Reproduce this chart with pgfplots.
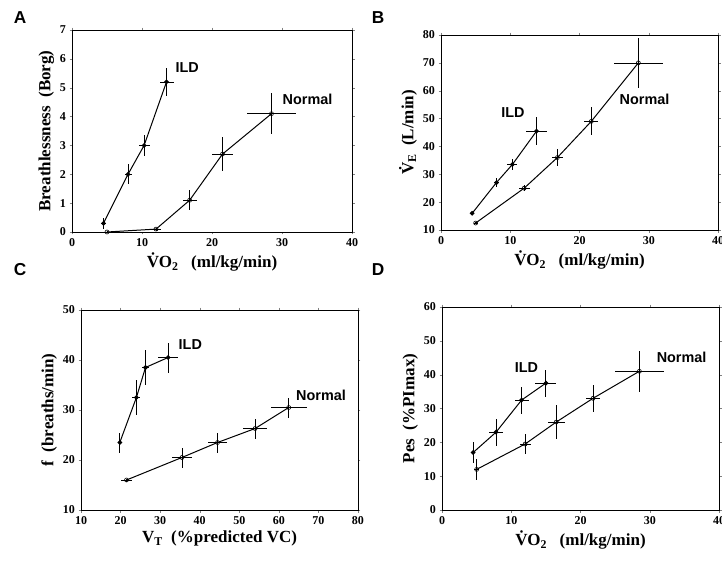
\documentclass[border=0pt]{standalone}
\usepackage{fontspec}
\setmainfont{Liberation Serif}
\newfontfamily\panelfont{Liberation Sans}
\usepackage{pgfplots}
\pgfplotsset{compat=1.18}

\pgfplotsset{
  panel/.style={
    scale only axis, anchor=south west,
    axis line style={line width=0.6pt},
    tick align=outside, major tick length=2.5pt,
    ticklabel style={font=\bfseries\large},
    /pgf/number format/assume math mode=true,
    label style={font=\bfseries\fontsize{17}{20}\selectfont},
    xlabel style={yshift=0pt},
    ylabel style={yshift=-1pt},
    clip=false,
  },
  ild/.style={black, line width=1pt, mark=*, mark size=1.8pt,
    error bars/.cd, x dir=both, y dir=both, x explicit, y explicit,
    error mark=none, error bar style={line width=0.8pt}},
  nrm/.style={black, line width=1pt, mark=o, mark size=2pt,
    mark options={fill=white, line width=0.6pt},
    error bars/.cd, x dir=both, y dir=both, x explicit, y explicit,
    error mark=none, error bar style={line width=0.7pt}},
}
\tikzset{grp/.style={font=\panelfont\bfseries\Large, anchor=west}}
\newcommand{\vo}{\.{V}O\textsubscript{2}}

\begin{document}
\begin{tikzpicture}
\path[use as bounding box] (0pt,0pt) rectangle (722pt,563pt);

\node[font=\panelfont\bfseries\LARGE] at (20pt,545pt) {A};
\node[font=\panelfont\bfseries\LARGE] at (378pt,545pt) {B};
\node[font=\panelfont\bfseries\LARGE] at (20pt,293pt) {C};
\node[font=\panelfont\bfseries\LARGE] at (378pt,293pt) {D};

% Panel A
\begin{axis}[panel, at={(72pt,331pt)}, width=280pt, height=202pt,
  xmin=0, xmax=40, ymin=0, ymax=7,
  xtick={0,10,20,30,40}, ytick={0,1,2,3,4,5,6,7},
  xlabel={\vo\ \ \ (ml/kg/min)},
  ylabel={Breathlessness\ \ (Borg)}]
\addplot[nrm] coordinates {
  (5,0) +- (0.5,0.05) (12,0.1) +- (0.7,0.05) (16.8,1.1) +- (1,0.35)
  (21.5,2.7) +- (1.5,0.6) (28.5,4.1) +- (3.5,0.7)};
\addplot[ild] coordinates {
  (4.5,0.3) +- (0.3,0.2) (8,2.0) +- (0.5,0.35) (10.3,3.0) +- (0.8,0.35)
  (13.5,5.2) +- (1,0.5)};
\node[grp] at (axis cs:14.3,5.7) {ILD};
\node[grp] at (axis cs:29.6,4.6) {Normal};
\end{axis}

% Panel B
\begin{axis}[panel, at={(441pt,333pt)}, width=277pt, height=195pt,
  xmin=0, xmax=40, ymin=10, ymax=80,
  xtick={0,10,20,30,40}, ytick={10,20,...,80},
  xlabel={\vo\ \ \ (ml/kg/min)},
  ylabel={\.{V}\textsubscript{E}\ \ (L/min)}]
\addplot[nrm] coordinates {
  (5,12.5) +- (0.3,0.5) (12,25) +- (0.8,1) (16.8,36) +- (0.8,3)
  (21.7,49) +- (1,5) (28.5,70) +- (3.5,9)};
\addplot[ild] coordinates {
  (4.5,16) +- (0.2,0.5) (8,27) +- (0.4,1.5) (10.3,33.5) +- (0.7,2)
  (13.8,45.5) +- (1.5,5)};
\node[grp] at (axis cs:8.2,52) {ILD};
\node[grp] at (axis cs:25.3,57) {Normal};
\end{axis}

% Panel C
\begin{axis}[panel, at={(81pt,53pt)}, width=277pt, height=200pt,
  xmin=10, xmax=80, ymin=10, ymax=50,
  xtick={10,20,...,80}, ytick={10,20,...,50},
  xlabel={V\textsubscript{T}\ \ (\%predicted VC)},
  ylabel={f\ \ (breaths/min)}]
\addplot[nrm] coordinates {
  (21.5,16) +- (1.5,0.3) (35.5,20.5) +- (2.5,2) (44.5,23.5) +- (2.5,2)
  (54,26.3) +- (3,2) (62.5,30.5) +- (4.5,2)};
\addplot[ild] coordinates {
  (19.8,23.5) +- (0.5,2) (24,32.5) +- (1,3.5) (26.3,38.5) +- (0.8,3.5)
  (32,40.5) +- (2.5,3)};
\node[grp] at (axis cs:33.8,43) {ILD};
\node[grp] at (axis cs:63.5,33) {Normal};
\end{axis}

% Panel D
\begin{axis}[panel, at={(442pt,53pt)}, width=277pt, height=203pt,
  xmin=0, xmax=40, ymin=0, ymax=60,
  xtick={0,10,20,30,40}, ytick={0,10,...,60},
  xlabel={\vo\ \ \ (ml/kg/min)},
  ylabel={Pes\ \ (\%PImax)}]
\addplot[nrm] coordinates {
  (5,12) +- (0.4,3) (12,19.5) +- (0.8,3) (16.5,26) +- (1.2,5)
  (21.8,33) +- (1,4) (28.5,41) +- (3.5,6)};
\addplot[ild] coordinates {
  (4.5,17) +- (0.3,3) (7.8,23) +- (1,4) (11.5,32.5) +- (1,4)
  (15,37.5) +- (1.5,4)};
\node[grp] at (axis cs:10,42) {ILD};
\node[grp] at (axis cs:30.5,45) {Normal};
\end{axis}
\end{tikzpicture}
\end{document}
